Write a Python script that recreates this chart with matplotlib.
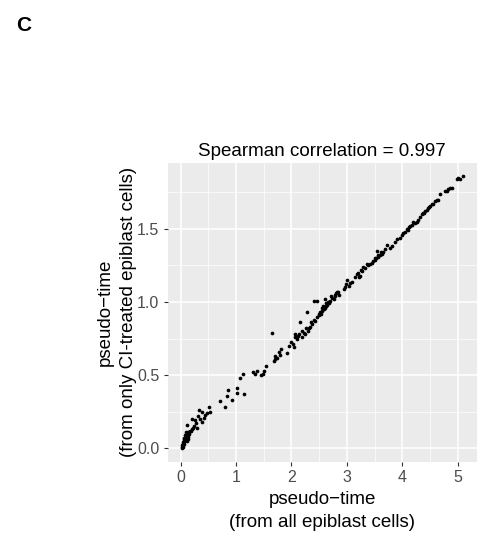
import numpy as np
import matplotlib.pyplot as plt
from matplotlib.ticker import MultipleLocator

plt.rcParams['font.family'] = ['Liberation Sans', 'DejaVu Sans']

# pseudo-time estimated from all epiblast cells (x) vs only CI-treated cells (y)
low_x = [0.02, 0.03, 0.03, 0.04, 0.04, 0.05, 0.05, 0.06, 0.06, 0.07, 0.07, 0.08,
         0.08, 0.09, 0.09, 0.10, 0.10, 0.11, 0.11, 0.12, 0.12, 0.13, 0.13, 0.14,
         0.15, 0.16, 0.17, 0.18, 0.20, 0.06, 0.08, 0.10, 0.12, 0.14, 0.09, 0.05,
         0.07, 0.11, 0.13, 0.04]
low_y = [0.00, 0.01, 0.02, 0.02, 0.03, 0.03, 0.04, 0.04, 0.05, 0.05, 0.06, 0.06,
         0.07, 0.07, 0.08, 0.08, 0.09, 0.09, 0.10, 0.08, 0.10, 0.09, 0.11, 0.10,
         0.10, 0.11, 0.12, 0.12, 0.13, 0.07, 0.09, 0.06, 0.07, 0.08, 0.11, 0.02,
         0.03, 0.05, 0.06, 0.01]

mid_x = [0.12, 0.21, 0.27, 0.24, 0.30, 0.33, 0.39, 0.45, 0.38, 0.42, 0.52, 0.54,
         0.72, 0.81, 0.84, 0.86, 0.92, 1.02, 1.02, 1.08, 1.12, 1.15, 1.30, 1.34,
         1.38, 1.46, 1.50, 1.55, 1.65, 1.68, 1.71, 1.74, 1.77, 1.82, 1.92, 1.95,
         2.02, 2.05, 2.06, 2.07, 2.10, 2.13, 2.16, 2.19, 2.22, 2.25, 2.28, 2.30,
         2.34, 2.37, 2.40, 2.46, 2.43, 2.46, 2.49, 2.52, 2.55, 2.58, 2.61, 2.64,
         2.67, 2.70, 2.72, 2.76, 2.79, 2.82, 2.85, 0.22, 0.28, 0.35, 0.48, 1.70,
         1.80, 2.00, 2.12, 2.20, 2.32, 2.50, 2.53, 2.56, 2.60, 2.62, 2.66, 2.68,
         2.74, 2.78, 2.81, 2.84, 1.48, 0.32, 2.27, 2.35, 2.41, 2.57, 2.63]
mid_y = [0.16, 0.20, 0.19, 0.15, 0.14, 0.26, 0.25, 0.23, 0.18, 0.21, 0.28, 0.25,
         0.32, 0.28, 0.36, 0.40, 0.33, 0.41, 0.38, 0.48, 0.51, 0.37, 0.52, 0.51,
         0.53, 0.50, 0.53, 0.56, 0.79, 0.60, 0.63, 0.62, 0.66, 0.68, 0.65, 0.70,
         0.71, 0.69, 0.76, 0.78, 0.75, 0.78, 0.86, 0.76, 0.79, 0.78, 0.93, 0.80,
         0.83, 0.85, 1.01, 1.01, 0.87, 0.90, 0.92, 0.93, 0.94, 0.95, 1.02, 0.98,
         0.99, 1.01, 1.04, 1.02, 1.04, 1.07, 1.05, 0.14, 0.17, 0.20, 0.24, 0.61,
         0.64, 0.73, 0.77, 0.80, 0.82, 0.91, 0.92, 0.96, 0.96, 0.97, 1.00, 1.00,
         1.03, 1.05, 1.06, 1.07, 0.51, 0.22, 0.82, 0.86, 0.88, 0.97, 0.99]

high_x = [2.97, 3.00, 3.03, 3.15, 3.21, 3.24, 3.27, 3.30, 3.39, 3.45, 3.51, 3.54,
          3.57, 3.63, 3.69, 3.72, 3.78, 3.90, 3.96, 4.02, 4.08, 4.14, 4.23, 4.29,
          4.35, 4.41, 4.47, 4.53, 4.59, 4.68, 4.77, 4.82, 4.89, 2.95, 2.99, 3.06,
          3.10, 3.18, 3.22, 3.26, 3.33, 3.36, 3.42, 3.48, 3.50, 3.53, 3.56, 3.60,
          3.62, 3.66, 3.82, 3.86, 3.99, 4.05, 4.10, 4.12, 4.18, 4.20, 4.26, 4.32,
          4.38, 4.44, 4.50, 4.56, 4.62, 4.65, 4.80, 4.86, 5.01, 4.40, 4.48,
          5.05, 5.09, 4.98]
high_y = [1.10, 1.15, 1.11, 1.17, 1.20, 1.18, 1.21, 1.24, 1.25, 1.27, 1.29, 1.35,
          1.31, 1.33, 1.36, 1.39, 1.37, 1.43, 1.44, 1.47, 1.50, 1.52, 1.54, 1.56,
          1.60, 1.62, 1.64, 1.67, 1.69, 1.74, 1.76, 1.77, 1.78, 1.09, 1.12, 1.13,
          1.14, 1.19, 1.17, 1.22, 1.23, 1.26, 1.26, 1.28, 1.30, 1.30, 1.32, 1.32,
          1.34, 1.34, 1.38, 1.41, 1.46, 1.48, 1.49, 1.51, 1.53, 1.55, 1.55, 1.58,
          1.61, 1.63, 1.66, 1.67, 1.70, 1.70, 1.76, 1.78, 1.85, 1.61, 1.65,
          1.84, 1.86, 1.84]

x = np.array(low_x + mid_x + high_x)
y = np.array(low_y + mid_y + high_y)

fig = plt.figure(figsize=(4.78, 5.37), dpi=100)
ax = fig.add_axes([0.351, 0.14, 0.646, 0.557])

# ggplot2 look
ax.set_facecolor('#EBEBEB')
for s in ax.spines.values():
    s.set_visible(False)
ax.xaxis.set_major_locator(MultipleLocator(1))
ax.xaxis.set_minor_locator(MultipleLocator(0.5))
ax.yaxis.set_major_locator(MultipleLocator(0.5))
ax.yaxis.set_minor_locator(MultipleLocator(0.25))
ax.grid(which='major', color='white', linewidth=1.1)
ax.grid(which='minor', color='white', linewidth=0.5)
ax.set_axisbelow(True)
ax.tick_params(which='major', length=3, width=0.8, color='#333333',
               labelcolor='#4D4D4D', labelsize=11.5, pad=3)
ax.tick_params(which='minor', length=0)
ax.yaxis.set_major_formatter(plt.FormatStrFormatter('%.1f'))

ax.scatter(x, y, s=7, color='black', linewidths=0, zorder=3)

ax.set_xlim(-0.23, 5.34)
ax.set_ylim(-0.093, 1.953)

ax.set_title('Spearman correlation = 0.997', fontsize=13.5, pad=5)
ax.set_xlabel('pseudo\u2212time\n(from all epiblast cells)', fontsize=13.5,
              linespacing=1.45)
ax.set_ylabel('pseudo\u2212time\n(from only CI-treated epiblast cells)', fontsize=13.5,
              linespacing=1.45, labelpad=0.5)

fig.text(0.033, 0.953, 'C', fontsize=15, fontweight='bold', va='center', ha='left')

fig.savefig('out.png', dpi=100)
